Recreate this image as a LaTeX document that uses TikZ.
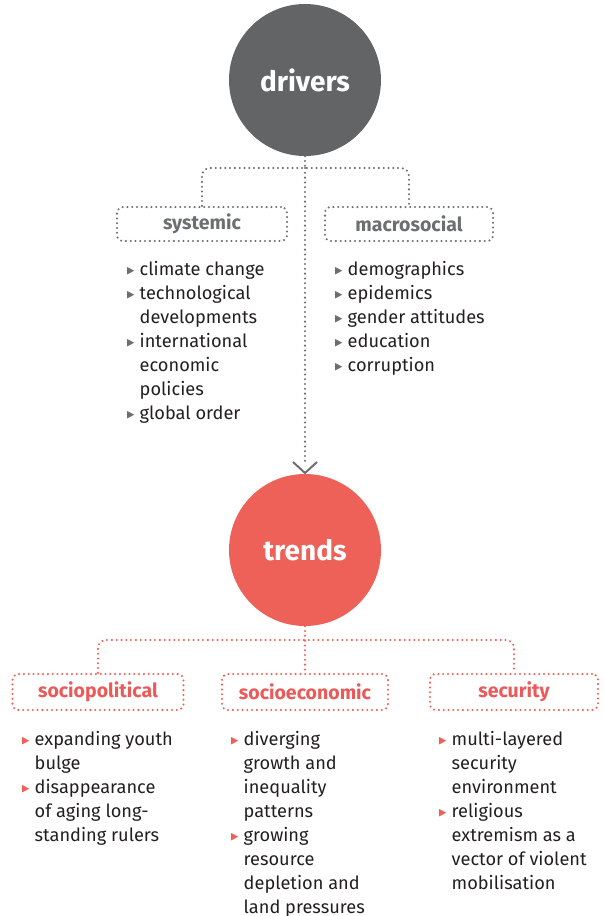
\documentclass[tikz,border=0pt]{standalone}
\usepackage{fontspec}
\setmainfont{Fira Sans}
\usetikzlibrary{arrows.meta}
\definecolor{dgray}{HTML}{636466}
\definecolor{lgray}{HTML}{6D6E71}
\definecolor{tred}{HTML}{EE6159}
\definecolor{lred}{HTML}{EA5A58}
\definecolor{txt}{HTML}{231F20}
\newcommand\bul[1]{\makebox[12.5pt][l]{\tikz[baseline=0pt]\fill[#1] (0,0.8pt)--(0,8.2pt)--(7pt,4.5pt)--cycle;}}
\newcommand\ind{\hspace*{12.5pt}}
\tikzset{
  circ/.style={circle, minimum size=152pt, inner sep=0pt, text=white, font=\fontsize{28}{30}\selectfont\bfseries},
  dotline/.style={line width=2.3pt, line cap=round, dash pattern=on 0pt off 4.8pt},
  catbox/.style={dotline, rounded corners=6pt, minimum height=34pt, inner sep=0pt, font=\fontsize{19.5}{22}\selectfont\bfseries},
  listnode/.style={anchor=north west, inner sep=0pt, align=left, text=txt, font=\fontsize{18.2}{24}\selectfont}
}
\begin{document}
\begin{tikzpicture}[x=1pt,y=-1pt]
\useasboundingbox (0,0) rectangle (603,916);
% circles
\node[circ, fill=dgray] (drivers) at (305,80) {drivers};
\node[circ, fill=tred] (trends) at (305,550) {trends};
% top boxes
\node[catbox, draw=lgray, text=lgray, minimum width=170pt] (systemic) at (202,224) {systemic};
\node[catbox, draw=lgray, text=lgray, minimum width=168pt] (macro) at (409,224) {macrosocial};
% top connectors
\coordinate (tj) at (305,168);
\draw[dotline, lgray] (drivers.south) -- (tj);
\draw[dotline, lgray, rounded corners=8pt] (systemic.north) |- (tj) -| (macro.north);
\coordinate (arrtip) at (305,473);
\draw[dotline, lgray] (tj) -- (305,463);
\draw[lgray, line width=2pt] (293,462) -- (arrtip) -- (317,462);
% bottom boxes
\node[catbox, draw=tred, text=lred, minimum width=171pt, minimum height=36pt] (sociopol) at (98,692) {sociopolitical};
\node[catbox, draw=tred, text=lred, minimum width=166pt, minimum height=36pt] (socioeco) at (305,692) {socioeconomic};
\node[catbox, draw=tred, text=lred, minimum width=168pt, minimum height=36pt] (security) at (514,692) {security};
\coordinate (bj) at (305,640);
\draw[dotline, tred] (trends.south) -- (socioeco.north);
\draw[dotline, tred, rounded corners=8pt] (sociopol.north) |- (bj) -| (security.north);
% lists
\node[listnode] (l1) at (127,257) {\rule{0pt}{18pt}\bul{lgray}climate change\\
\bul{lgray}technological\\ \ind developments\\
\bul{lgray}international\\ \ind economic\\ \ind policies\\
\bul{lgray}global order};
\node[listnode] (l2) at (335,257) {\rule{0pt}{18pt}\bul{lgray}demographics\\
\bul{lgray}epidemics\\ \bul{lgray}gender attitudes\\ \bul{lgray}education\\ \bul{lgray}corruption};
\node[listnode] (l3) at (22,727) {\rule{0pt}{18pt}\bul{tred}expanding youth\\ \ind bulge\\
\bul{tred}disappearance\\ \ind of aging long-\\ \ind standing rulers};
\node[listnode] (l4) at (231,727) {\rule{0pt}{18pt}\bul{tred}diverging\\ \ind growth and\\ \ind inequality\\ \ind patterns\\
\bul{tred}growing\\ \ind resource\\ \ind depletion and\\ \ind land pressures};
\node[listnode] (l5) at (439,727) {\rule{0pt}{18pt}\bul{tred}multi-layered\\ \ind security\\ \ind environment\\
\bul{tred}religious\\ \ind extremism as a\\ \ind vector of violent\\ \ind mobilisation};
\end{tikzpicture}
\end{document}
